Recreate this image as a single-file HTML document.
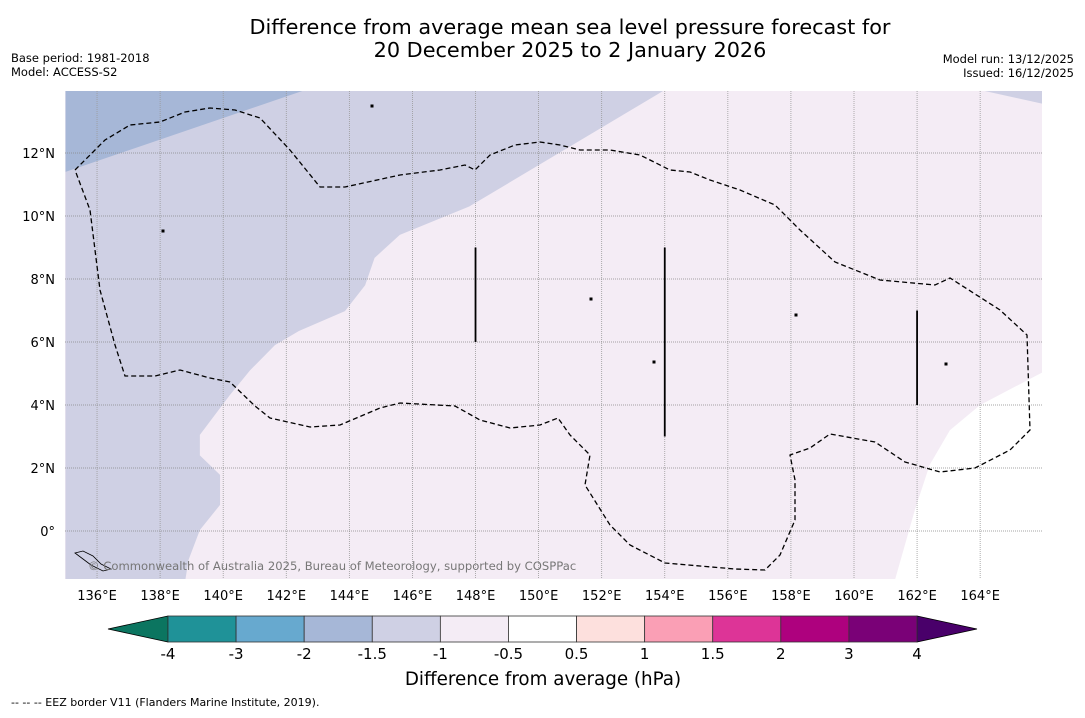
<!DOCTYPE html>
<html><head><meta charset="utf-8">
<style>
body{margin:0;background:#fff;width:1085px;height:713px;overflow:hidden;font-family:"Liberation Sans","DejaVu Sans",sans-serif;}
svg text{font-family:"DejaVu Sans","Liberation Sans",sans-serif;}
</style></head>
<body>
<svg id="chart" width="1085" height="713" xmlns="http://www.w3.org/2000/svg">
<text x="570" y="34" font-size="20.8" text-anchor="middle">Difference from average mean sea level pressure forecast for</text>
<text x="570" y="57" font-size="20.8" text-anchor="middle">20 December 2025 to 2 January 2026</text>
<text x="11" y="62" font-size="11.5">Base period: 1981-2018</text>
<text x="11" y="76" font-size="11.5">Model: ACCESS-S2</text>
<text x="1074" y="63" font-size="11.5" text-anchor="end">Model run: 13/12/2025</text>
<text x="1074" y="77" font-size="11.5" text-anchor="end">Issued: 16/12/2025</text>
<g id="map"></g>
<g id="cbar"></g>
<text x="543" y="685" font-size="18.3" text-anchor="middle">Difference from average (hPa)</text>
<text x="11" y="706" font-size="11">--  --  -- EEZ border V11 (Flanders Marine Institute, 2019).</text>
</svg>
<script>
const NS="http://www.w3.org/2000/svg";
const lonTicks=[136,138,140,142,144,146,148,150,152,154,156,158,160,162,164];
const latTicks=[0,2,4,6,8,10,12];
const blueRegion=[[135,14],[142.6,14],[135,11.4]];
const lavenderRegion=[[135,14],[154.0,14],[147.8,10.3],[145.6,9.4],[144.8,8.67],[144.5,7.8],[143.86,6.98],[142.4,6.35],[141.64,5.9],[140.85,5.1],[140.2,4.3],[139.26,3.05],[139.26,2.4],[139.9,1.78],[139.9,0.83],[139.26,0.03],[138.9,-0.92],[138.8,-1.55],[135,-1.55]];
const lavenderTopRight=[[164.0,14],[166,14],[166,13.56]];
const whiteRegion=[[166,5.05],[164.0,4.0],[163.04,3.2],[162.4,2.1],[161.93,0.67],[161.3,-1.55],[166,-1.55]];
const eezPx=[[75,170],[90,155],[105,140],[130,125],[160,122],[185,112],[210,108],[235,110],[260,118],[290,150],[320,187],[345,187],[400,175],[440,170],[465,165],[475,170],[490,155],[515,145],[540,142],[560,145],[580,150],[610,150],[640,155],[670,170],[690,172],[710,180],[740,190],[775,205],[800,230],[835,262],[880,280],[935,285],[950,278],[1000,310],[1027,335],[1030,430],[1010,450],[975,468],[940,472],[905,462],[875,442],[830,434],[810,448],[790,455],[795,480],[795,520],[780,555],[765,570],[735,569],[665,563],[630,545],[610,525],[585,485],[590,455],[570,435],[558,418],[540,425],[510,428],[480,420],[455,406],[400,403],[380,408],[340,425],[310,427],[270,418],[255,406],[230,382],[210,378],[180,370],[155,376],[125,376],[115,345],[100,290],[95,250],[90,210],[75,170]];
const vLines=[[148,9,6],[154,9,3],[162,7,4]];
const cbLevels=["-4","-3","-2","-1.5","-1","-0.5","0.5","1","1.5","2","3","4"];
const cbColors=["#1f9298","#67a9cf","#a6b7d7","#cfd0e4","#f4ecf5","#ffffff","#fde0dd","#fa9fb5","#dd3497","#ae017e","#7a0177"];
const cbMin="#0b7560", cbMax="#49006a";

const X0=65,X1=1042,Y0=91,Y1=579;
const lon=v=>65.5+(v-135)*31.54;
const lat=v=>531-v*31.5;
const svg=document.getElementById('chart');
const map=document.getElementById('map');
function mk(t,a,p){const e=document.createElementNS(NS,t);for(const k in a)e.setAttribute(k,a[k]);(p||map).appendChild(e);return e;}
const defs=mk('defs',{},svg);
const cp=mk('clipPath',{id:'clip'},defs);
mk('rect',{x:X0,y:Y0,width:X1-X0,height:Y1-Y0},cp);
const g=mk('g',{'clip-path':'url(#clip)'});
let e=mk('rect',{x:X0,y:Y0,width:X1-X0,height:Y1-Y0,fill:'#f4ecf5'},g);


function poly(pts,fill,name){const p=mk('polygon',{points:pts.map(q=>lon(q[0])+','+lat(q[1])).join(' '),fill:fill},g);

}
poly(lavenderRegion,'#cfd0e4','anomaly-fill-lavender');
poly(lavenderTopRight,'#cfd0e4','anomaly-fill-lavender-ne');
poly(blueRegion,'#a6b7d7','anomaly-fill-blue');
poly(whiteRegion,'#ffffff','anomaly-fill-white');
lonTicks.forEach(v=>{
  const l=mk('line',{x1:lon(v),x2:lon(v),y1:Y0,y2:Y1,stroke:'#999',"stroke-width":0.8,"stroke-dasharray":"1,1"},g);
  
  
  const t=mk('text',{x:lon(v),y:600,"font-size":13,"text-anchor":"middle"});
  t.textContent=v+'°E';
  
  
});
latTicks.forEach(v=>{
  const l=mk('line',{x1:X0,x2:X1,y1:lat(v),y2:lat(v),stroke:'#888',"stroke-width":0.8,"stroke-dasharray":"1,1"},g);
  
  
  const t=mk('text',{x:55,y:lat(v)+5,"font-size":13,"text-anchor":"end"});
  t.textContent=v===0?'0°':v+'°N';
  
  
});
e=mk('polyline',{points:eezPx.map(q=>q.join(',')).join(' '),fill:'none',stroke:'#000',"stroke-width":1.3,"stroke-dasharray":"5,3"},g);


vLines.forEach(v=>{const l=mk('line',{x1:lon(v[0]),x2:lon(v[0]),y1:lat(v[1]),y2:lat(v[2]),stroke:'#000',"stroke-width":1.8},g);

});
e=mk('path',{d:'M75,553 l8,-2 l10,5 l8,8 l10,5 l-8,2 l-12,-6 z',fill:'none',stroke:'#000',"stroke-width":0.8},g);


[[372,106],[163,231],[591,299],[796,315],[654,362],[946,364]].forEach(p=>{const c=mk('rect',{x:p[0]-1.5,y:p[1]-1.5,width:3,height:3,fill:'#000'},g);

});
e=mk('text',{x:88,y:570,"font-size":11.6,fill:'#777'},g);
e.textContent='© Commonwealth of Australia 2025, Bureau of Meteorology, supported by COSPPac';



// colorbar
const cb=document.getElementById('cbar');
const CB0=168,CB1=917,CY=616,CH=26;
const n=cbColors.length, w=(CB1-CB0)/n;
const cx=i=>CB0+i*w;
e=mk('polygon',{points:`${CB0},${CY} 108,${CY+CH/2} ${CB0},${CY+CH}`,fill:cbMin,stroke:'#000',"stroke-width":0.8},cb);


e=mk('polygon',{points:`${CB1},${CY} 977,${CY+CH/2} ${CB1},${CY+CH}`,fill:cbMax,stroke:'#000',"stroke-width":0.8},cb);


cbColors.forEach((c,i)=>{const r=mk('rect',{x:cx(i),y:CY,width:w,height:CH,fill:c,stroke:'#333',"stroke-width":0.8},cb);

});
cbLevels.forEach((s,i)=>{const t=mk('text',{x:cx(i),y:659,"font-size":15,"text-anchor":"middle"},cb);t.textContent=s;

});
</script>
</body></html>
